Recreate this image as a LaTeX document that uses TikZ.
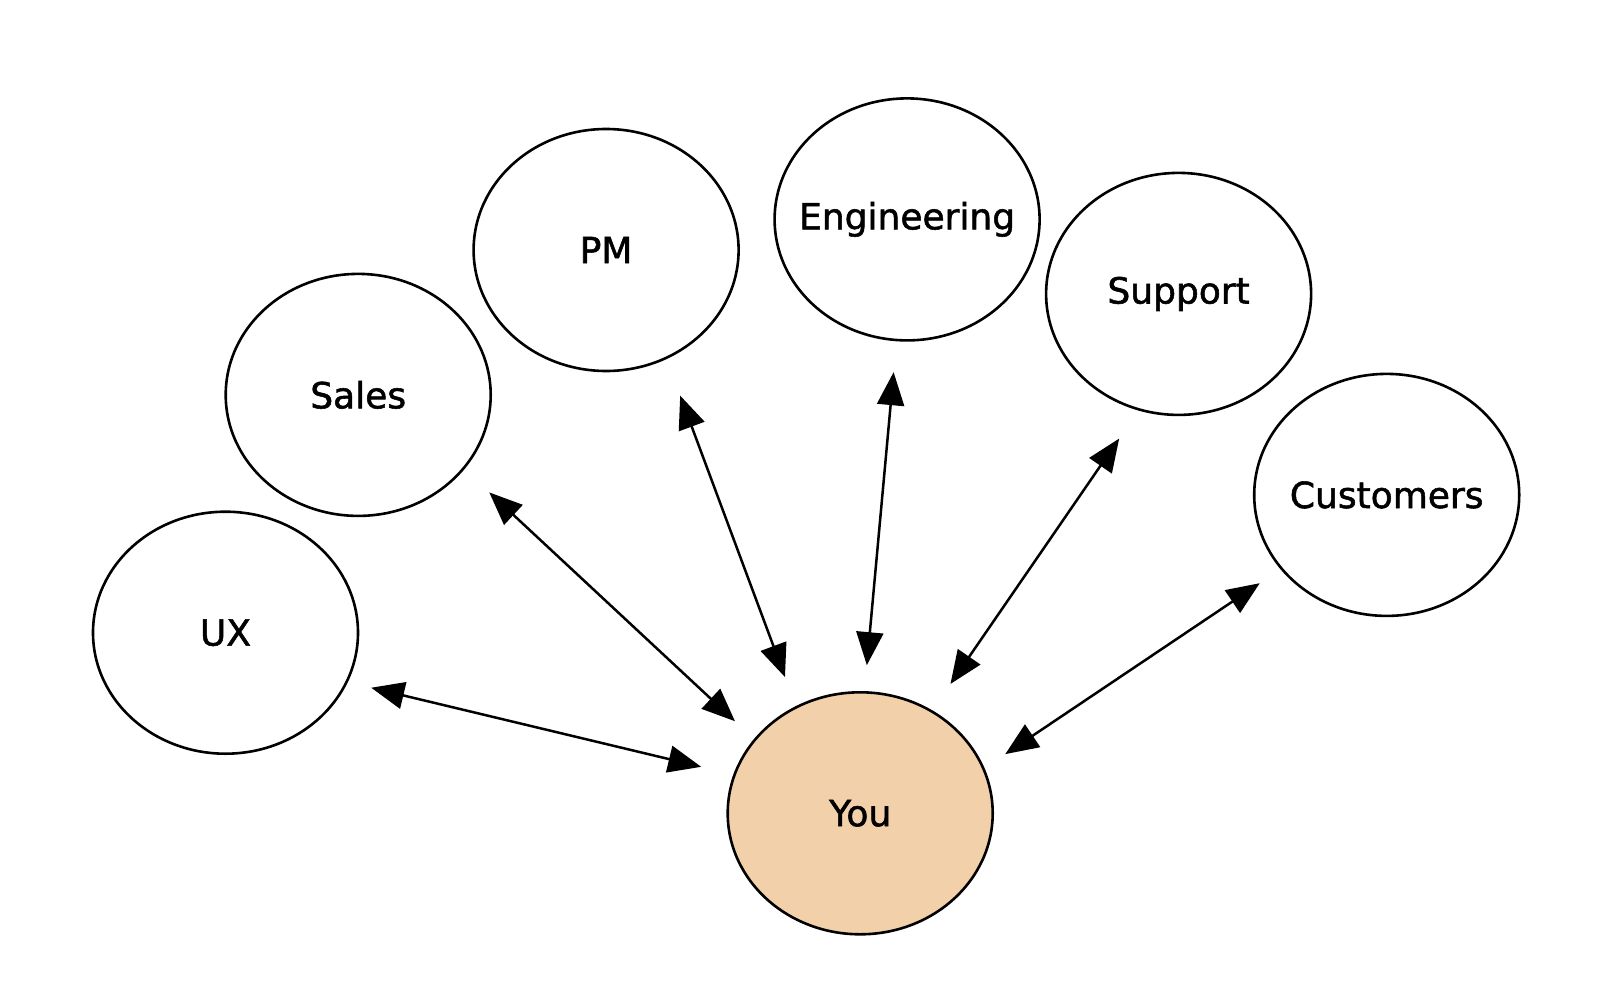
\documentclass[tikz,border=0pt]{standalone}
\usepackage{fontspec}
\setmainfont{DejaVu Sans}
\newfontfamily\handfont{DejaVu Sans}[FakeBold=1.5]
\usetikzlibrary{shapes.geometric,arrows.meta}
\definecolor{peach}{HTML}{F2D0A9}
\tikzset{
  bubble/.style={ellipse, draw=black, line width=2.6pt, minimum width=265pt, minimum height=242pt, inner sep=0pt,
    font=\handfont\fontsize{36}{40}\selectfont},
  link/.style={line width=2.5pt, {Triangle[length=33pt,width=27pt]}-{Triangle[length=33pt,width=27pt]}},
}
\newcommand{\lbl}[1]{\makebox[0pt][c]{#1}}
\begin{document}
\begin{tikzpicture}[x=1pt,y=-1pt]
\useasboundingbox (0,0) rectangle (1600,992);
\node[bubble] (ux) at (225.5,632.7) {\lbl{UX}};
\node[bubble] (sales) at (358.2,394.9) {\lbl{Sales}};
\node[bubble] (pm) at (606.1,250) {\lbl{PM}};
\node[bubble] (eng) at (907.1,219.4) {\lbl{Engineering}};
\node[bubble] (sup) at (1178.6,293.9) {\lbl{Support}};
\node[bubble] (cust) at (1386.7,494.9) {\lbl{Customers}};
\node[bubble, fill=peach] (you) at (860.2,813.3) {\lbl{You}};
\draw[link, shorten <=24pt, shorten >=33pt] (ux.-22) -- (you.163.7);
\draw[link, shorten <=34pt, shorten >=26pt] (sales.-35.8) -- (you.145.8);
\draw[link, shorten <=39pt, shorten >=31pt] (pm.-61.1) -- (you.121);
\draw[link, shorten <=31pt, shorten >=26pt] (eng.-95) -- (you.88);
\draw[link, shorten <=34pt, shorten >=32pt] (sup.-109.9) -- (you.55.4);
\draw[link, shorten <=25pt, shorten >=25pt] (cust.-145.6) -- (you.20.8);
\end{tikzpicture}
\end{document}
